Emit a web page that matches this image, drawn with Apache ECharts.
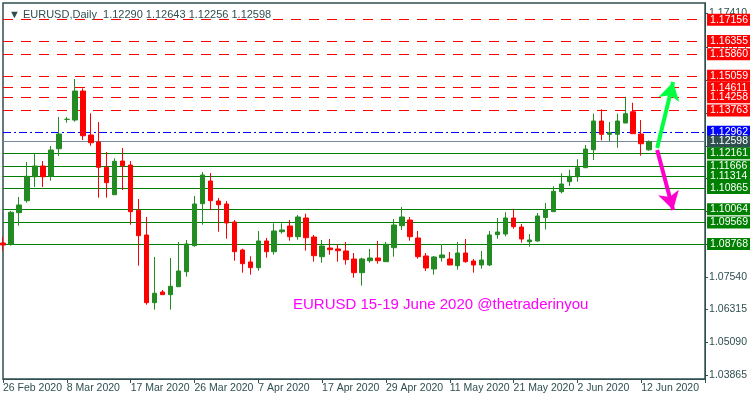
<!DOCTYPE html>
<html><head><meta charset="utf-8">
<script src="https://cdn.jsdelivr.net/npm/echarts@6/dist/echarts.min.js"></script>
<style>html,body{margin:0;padding:0;background:#fff}#c{width:750px;height:400px}</style>
</head><body><div id="c"></div>
<script>
const opens=[1.08806,1.08757,1.09939,1.10387,1.11284,1.11684,1.11299,1.12331,1.13430,1.13404,1.14488,1.12843,1.12582,1.11636,1.10611,1.11871,1.11722,1.10028,1.09105,1.06574,1.06974,1.06873,1.07172,1.07733,1.08705,1.10275,1.11124,1.10376,1.10264,1.09591,1.08544,1.08096,1.07883,1.08881,1.08481,1.09228,1.09441,1.09041,1.09741,1.09030,1.08294,1.08619,1.08582,1.08507,1.08208,1.07696,1.08144,1.08245,1.08107,1.08630,1.09453,1.09666,1.08993,1.08320,1.07834,1.08256,1.08208,1.07957,1.08432,1.08133,1.07984,1.07984,1.09116,1.09142,1.09741,1.09404,1.08854,1.08881,1.09759,1.09976,1.10724,1.11098,1.11284,1.11621,1.12294,1.13367,1.12870,1.12870,1.13292,1.13714,1.12881,1.12290];
const closes=[1.08731,1.09954,1.10227,1.11299,1.11684,1.11284,1.12283,1.12881,1.13430,1.14488,1.12817,1.12555,1.11636,1.11060,1.11860,1.11696,1.09976,1.09079,1.06574,1.06926,1.06873,1.07187,1.07759,1.08769,1.10264,1.11348,1.10387,1.10238,1.09554,1.08481,1.08032,1.07883,1.08881,1.08481,1.09255,1.09292,1.09041,1.09778,1.09004,1.08331,1.08694,1.08555,1.08518,1.08182,1.07696,1.08208,1.08245,1.08144,1.08757,1.09479,1.09778,1.09041,1.08294,1.07871,1.08283,1.08357,1.07984,1.08432,1.08107,1.07984,1.08170,1.09105,1.09217,1.09741,1.09415,1.08956,1.08918,1.09815,1.10040,1.10739,1.11012,1.11299,1.11621,1.12320,1.13367,1.12870,1.12929,1.13367,1.13640,1.12892,1.12518,1.12598];
const lows=[1.08518,1.08705,1.09453,1.10312,1.10899,1.10899,1.11135,1.12058,1.13303,1.13341,1.12656,1.12443,1.10499,1.10499,1.10611,1.10787,1.09490,1.07957,1.06499,1.06313,1.06873,1.06313,1.07172,1.07546,1.08668,1.09490,1.10040,1.09228,1.08967,1.08144,1.07696,1.07621,1.07770,1.08256,1.08369,1.09154,1.08892,1.08929,1.08518,1.08107,1.08070,1.08369,1.08107,1.07995,1.07509,1.07210,1.08070,1.08032,1.08107,1.08294,1.09292,1.08892,1.08219,1.07759,1.07621,1.08107,1.07984,1.07808,1.08070,1.07696,1.07845,1.07946,1.08967,1.09056,1.09340,1.08817,1.08668,1.08854,1.09311,1.09976,1.10664,1.10937,1.11098,1.11621,1.11909,1.12645,1.12619,1.12369,1.13292,1.12892,1.12070,1.12256];
const highs=[1.09041,1.10002,1.10526,1.11834,1.12144,1.11871,1.12432,1.13516,1.13516,1.14937,1.14589,1.13655,1.13329,1.12208,1.11972,1.12357,1.11871,1.10451,1.09778,1.08283,1.07049,1.08245,1.08843,1.08918,1.10563,1.11460,1.11423,1.10488,1.10376,1.09666,1.08593,1.08309,1.09255,1.08993,1.09542,1.09542,1.09666,1.09853,1.09901,1.09105,1.08918,1.08956,1.08769,1.08843,1.08432,1.08256,1.08582,1.08881,1.08843,1.09703,1.10152,1.09778,1.09255,1.08432,1.08320,1.08769,1.08470,1.08843,1.08956,1.08207,1.08507,1.09255,1.09741,1.09954,1.10077,1.09516,1.09142,1.09927,1.10301,1.10926,1.11412,1.11546,1.11935,1.12470,1.13640,1.13804,1.13329,1.13640,1.14275,1.14051,1.13404,1.12643];
const dateLabels=['26 Feb 2020','8 Mar 2020','17 Mar 2020','26 Mar 2020','7 Apr 2020','17 Apr 2020','29 Apr 2020','11 May 2020','21 May 2020','2 Jun 2020','12 Jun 2020'];
const yTickLabels=[1.03865,1.05090,1.06315,1.07540,1.08765,1.09990,1.11215,1.12440,1.13665,1.14890,1.16115,1.17410];
const redLevels=[1.17156,1.16355,1.15860,1.15059,1.14611,1.14258,1.13763];
const blueLevels=[1.12962];
const currentPrice=[1.12598];
const greenLevels=[1.12161,1.11666,1.11314,1.10865,1.10064,1.09569,1.08768];
const upArrow=[[81.8,1.12358],[84.1,1.14825]];
const downArrow=[[82.2,1.12282],[84.1,1.10040]];

const nSlots=89;
const cats=[];for(let i=0;i<nSlots;i++)cats.push(String(i));
const candles=opens.map((o,i)=>[o,closes[i],lows[i],highs[i]]);
const font='Liberation Sans';
function lvl(arr,color,bg,type){return arr.map(v=>[
 {xAxis:0,yAxis:v,lineStyle:{color:color,type:type,width:1.2},
  label:{show:true,position:'end',distance:2,formatter:v.toFixed(5),color:'#fff',backgroundColor:bg,padding:[1,3,0,3],fontSize:10.5,fontFamily:font}},
 {xAxis:nSlots-1,yAxis:v}]);}
const lines=[].concat(lvl(redLevels,'#ff0000','#ff0000',[10,8]),lvl(blueLevels,'#0000ff','#0000ff',[8,3,2,3]),
 lvl(currentPrice,'#778899','#2f4f4f','solid'),lvl(greenLevels,'#008000','#008000','solid'));
const chart=echarts.init(document.getElementById('c'));
chart.setOption({
 animation:false,
 title:[{text:'\u25BC EURUSD,Daily  1.12290 1.12643 1.12256 1.12598',left:4,top:4,textStyle:{fontSize:11,fontWeight:'normal',color:'#2f4f4f',fontFamily:font}},
  {text:'EURUSD 15-19 June 2020 @thetraderinyou',left:288,top:292,textStyle:{fontSize:15,fontWeight:'normal',color:'#ff00ff',fontFamily:font}}],
 grid:{left:3,right:42,top:3,bottom:21,show:true,borderColor:'#2f4f4f',borderWidth:1.5},
 xAxis:{type:'category',data:cats,boundaryGap:false,
  axisLine:{lineStyle:{color:'#2f4f4f'}},axisTick:{interval:7,lineStyle:{color:'#2f4f4f'},length:4},
  axisLabel:{interval:7,align:'left',margin:4,fontSize:10.5,color:'#2f4f4f',fontFamily:font,showMinLabel:true,hideOverlap:false,formatter:(v,i)=>dateLabels[i/8]||''},
  splitLine:{show:false}},
 yAxis:{type:'value',position:'right',min:1.0372,max:1.1778,scale:true,
  axisLine:{show:true,lineStyle:{color:'#2f4f4f'}},
  axisTick:{show:true,customValues:yTickLabels,length:3,lineStyle:{color:'#2f4f4f'}},
  axisLabel:{customValues:yTickLabels,formatter:v=>v.toFixed(5),fontSize:10.5,color:'#2f4f4f',margin:4,fontFamily:font},
  splitLine:{show:false}},
 series:[{type:'candlestick',data:candles,barWidth:5,
  itemStyle:{color:'#228b22',color0:'#ff0000',borderColor:'#228b22',borderColor0:'#ff0000',borderWidth:1},
  markLine:{silent:true,symbol:['none','none'],data:lines,z:1},z:3},
  {type:'line',data:[],markLine:{silent:true,symbol:['none','arrow'],symbolSize:[16,18],label:{show:false},
   data:[[{coord:upArrow[0],lineStyle:{color:'#00ff40',width:4,type:'solid'}},{coord:upArrow[1]}],
         [{coord:downArrow[0],lineStyle:{color:'#ff00cc',width:4,type:'solid'}},{coord:downArrow[1]}]]}}]
});
</script></body></html>
